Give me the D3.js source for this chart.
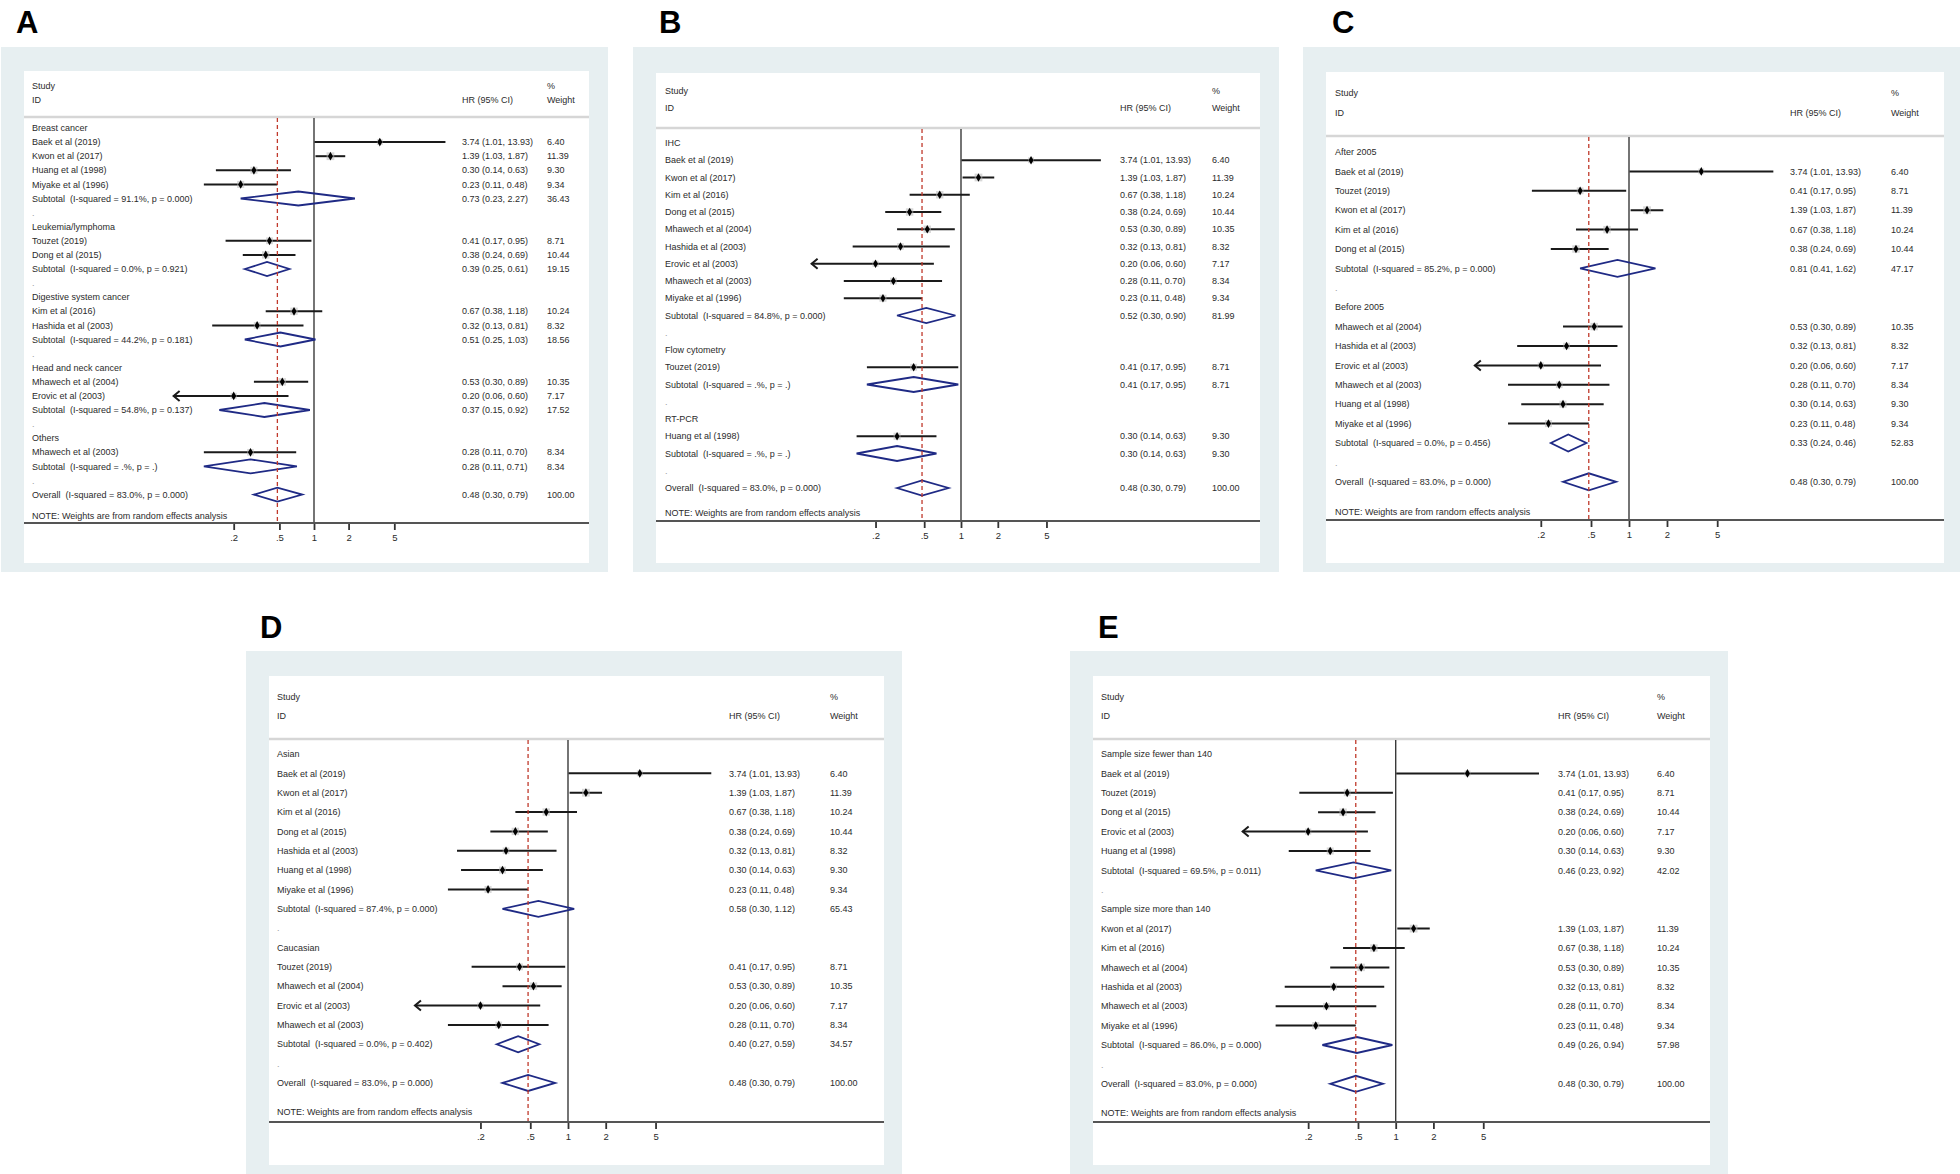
<!DOCTYPE html>
<html>
<head>
<meta charset="utf-8">
<script src="https://cdn.jsdelivr.net/npm/d3@7"></script>
<style>
  html, body { margin: 0; padding: 0; background: #ffffff; }
  svg text { font-family: "Liberation Sans", Arial, sans-serif; white-space: pre; }
</style>
</head>
<body>
<svg id="chart" width="1960" height="1174"></svg>
<script>
// ---------------- DATA ----------------
const studyNames = ["Baek et al (2019)", "Kwon et al (2017)", "Kim et al (2016)", "Dong et al (2015)", "Touzet (2019)",
  "Mhawech et al (2004)", "Hashida et al (2003)", "Erovic et al (2003)", "Mhawech et al (2003)", "Huang et al (1998)", "Miyake et al (1996)"];
const studyHR = [3.74, 1.39, 0.67, 0.38, 0.41, 0.53, 0.32, 0.20, 0.28, 0.30, 0.23];
const studyLo = [1.01, 1.03, 0.38, 0.24, 0.17, 0.30, 0.13, 0.06, 0.11, 0.14, 0.11];
const studyHi = [13.93, 1.87, 1.18, 0.69, 0.95, 0.89, 0.81, 0.60, 0.70, 0.63, 0.48];
const studyWeight = [6.40, 11.39, 10.24, 10.44, 8.71, 10.35, 8.32, 7.17, 8.34, 9.30, 9.34];

const overallHR = 0.48, overallLo = 0.30, overallHi = 0.79, overallWeight = 100.00;
const overallHet = "83.0%, p = 0.000";

const tickValues = [0.2, 0.5, 1, 2, 5];
const tickLabels = [".2", ".5", "1", "2", "5"];

// Panel A: cancer type
const groupsA = ["Breast cancer", "Leukemia/lymphoma", "Digestive system cancer", "Head and neck cancer", "Others"];
const membersA = [["Baek et al (2019)", "Kwon et al (2017)", "Huang et al (1998)", "Miyake et al (1996)"],
  ["Touzet (2019)", "Dong et al (2015)"], ["Kim et al (2016)", "Hashida et al (2003)"],
  ["Mhawech et al (2004)", "Erovic et al (2003)"], ["Mhawech et al (2003)"]];
const subHR_A = [0.73, 0.39, 0.51, 0.37, 0.28];
const subLo_A = [0.23, 0.25, 0.25, 0.15, 0.11];
const subHi_A = [2.27, 0.61, 1.03, 0.92, 0.71];
const subWt_A = [36.43, 19.15, 18.56, 17.52, 8.34];
const subHet_A = ["91.1%, p = 0.000", "0.0%, p = 0.921", "44.2%, p = 0.181", "54.8%, p = 0.137", ".%, p = ."];

// Panel B: detection method
const groupsB = ["IHC", "Flow cytometry", "RT-PCR"];
const membersB = [["Baek et al (2019)", "Kwon et al (2017)", "Kim et al (2016)", "Dong et al (2015)", "Mhawech et al (2004)",
  "Hashida et al (2003)", "Erovic et al (2003)", "Mhawech et al (2003)", "Miyake et al (1996)"],
  ["Touzet (2019)"], ["Huang et al (1998)"]];
const subHR_B = [0.52, 0.41, 0.30];
const subLo_B = [0.30, 0.17, 0.14];
const subHi_B = [0.90, 0.95, 0.63];
const subWt_B = [81.99, 8.71, 9.30];
const subHet_B = ["84.8%, p = 0.000", ".%, p = .", ".%, p = ."];

// Panel C: publication year
const groupsC = ["After 2005", "Before 2005"];
const membersC = [["Baek et al (2019)", "Touzet (2019)", "Kwon et al (2017)", "Kim et al (2016)", "Dong et al (2015)"],
  ["Mhawech et al (2004)", "Hashida et al (2003)", "Erovic et al (2003)", "Mhawech et al (2003)", "Huang et al (1998)", "Miyake et al (1996)"]];
const subHR_C = [0.81, 0.33];
const subLo_C = [0.41, 0.24];
const subHi_C = [1.62, 0.46];
const subWt_C = [47.17, 52.83];
const subHet_C = ["85.2%, p = 0.000", "0.0%, p = 0.456"];

// Panel D: ethnicity
const groupsD = ["Asian", "Caucasian"];
const membersD = [["Baek et al (2019)", "Kwon et al (2017)", "Kim et al (2016)", "Dong et al (2015)", "Hashida et al (2003)",
  "Huang et al (1998)", "Miyake et al (1996)"],
  ["Touzet (2019)", "Mhawech et al (2004)", "Erovic et al (2003)", "Mhawech et al (2003)"]];
const subHR_D = [0.58, 0.40];
const subLo_D = [0.30, 0.27];
const subHi_D = [1.12, 0.59];
const subWt_D = [65.43, 34.57];
const subHet_D = ["87.4%, p = 0.000", "0.0%, p = 0.402"];

// Panel E: sample size
const groupsE = ["Sample size fewer than 140", "Sample size more than 140"];
const membersE = [["Baek et al (2019)", "Touzet (2019)", "Dong et al (2015)", "Erovic et al (2003)", "Huang et al (1998)"],
  ["Kwon et al (2017)", "Kim et al (2016)", "Mhawech et al (2004)", "Hashida et al (2003)", "Mhawech et al (2003)", "Miyake et al (1996)"]];
const subHR_E = [0.46, 0.49];
const subLo_E = [0.23, 0.26];
const subHi_E = [0.92, 0.94];
const subWt_E = [42.02, 57.98];
const subHet_E = ["69.5%, p = 0.011", "86.0%, p = 0.000"];

// ---------------- LAYOUT ----------------
const layouts = {
  A: {letter: "A", lx: 16, ly: 33, outer: [1, 47, 608, 572], inner: [24, 71, 589, 563], studyY: 86, idY: 100, headLine: 117,
      firstRow: 128, step: 14.1, noteY: 516, axisY: 523, textX: 32, hrX: 462, wtX: 547, x1: 314, perLn: 49.9, dh: 7},
  B: {letter: "B", lx: 659, ly: 33, outer: [633, 47, 1279, 572], inner: [656, 73, 1260, 563], studyY: 91, idY: 108, headLine: 128,
      firstRow: 143, step: 17.25, noteY: 513, axisY: 521, textX: 665, hrX: 1120, wtX: 1212, x1: 961, perLn: 53.1, dh: 7.5},
  C: {letter: "C", lx: 1332, ly: 33, outer: [1303, 47, 1960, 572], inner: [1326, 72, 1944, 563], studyY: 93, idY: 113, headLine: 136,
      firstRow: 152, step: 19.4, noteY: 512, axisY: 520, textX: 1335, hrX: 1790, wtX: 1891, x1: 1629, perLn: 54.8, dh: 8.5},
  D: {letter: "D", lx: 260, ly: 638, outer: [246, 651, 902, 1174], inner: [269, 676, 884, 1165], studyY: 697, idY: 716, headLine: 739,
      firstRow: 754, step: 19.35, noteY: 1112, axisY: 1122, textX: 277, hrX: 729, wtX: 830, x1: 568, perLn: 54.4, dh: 8},
  E: {letter: "E", lx: 1098, ly: 638, outer: [1070, 651, 1728, 1174], inner: [1093, 676, 1710, 1165], studyY: 697, idY: 716, headLine: 739,
      firstRow: 754, step: 19.4, noteY: 1113, axisY: 1122, textX: 1101, hrX: 1558, wtX: 1657, x1: 1395.7, perLn: 54.4, dh: 8}
};

const svg = d3.select("#chart");
const f2 = d3.format(".2f");
const TXT = "#2b2b2b";
const FS = 9;

function drawPanel(cfg, groups, members, subHR, subLo, subHi, subWt, subHet) {
  const g = svg.append("g");
  // backgrounds
  g.append("rect").attr("x", cfg.outer[0]).attr("y", cfg.outer[1])
    .attr("width", cfg.outer[2] - cfg.outer[0]).attr("height", cfg.outer[3] - cfg.outer[1]).attr("fill", "#e7eff1");
  g.append("rect").attr("x", cfg.inner[0]).attr("y", cfg.inner[1])
    .attr("width", cfg.inner[2] - cfg.inner[0]).attr("height", cfg.inner[3] - cfg.inner[1]).attr("fill", "#ffffff");
  // panel letter
  g.append("text").attr("x", cfg.lx).attr("y", cfg.ly).text(cfg.letter)
    .attr("font-size", 31).attr("font-weight", "bold").attr("fill", "#000");

  // header
  const txt = (x, y, s, anchor) => g.append("text").attr("x", x).attr("y", y).attr("dy", "0.35em")
    .attr("font-size", FS).attr("fill", TXT).attr("text-anchor", anchor || "start").text(s);
  txt(cfg.textX, cfg.studyY, "Study");
  txt(cfg.textX, cfg.idY, "ID");
  txt(cfg.hrX, cfg.idY, "HR (95% CI)");
  txt(cfg.wtX, cfg.studyY, "%");
  txt(cfg.wtX, cfg.idY, "Weight");
  g.append("line").attr("x1", cfg.inner[0]).attr("x2", cfg.inner[2]).attr("y1", cfg.headLine).attr("y2", cfg.headLine)
    .attr("stroke", "#d6d6d6").attr("stroke-width", 2.5);

  // build rows
  const rows = [];
  groups.forEach((name, i) => {
    rows.push({type: "group", label: name});
    members[i].forEach(s => {
      const k = studyNames.indexOf(s);
      rows.push({type: "study", label: s, hr: studyHR[k], lo: studyLo[k], hi: studyHi[k], w: studyWeight[k]});
    });
    rows.push({type: "sub", label: "Subtotal  (I-squared = " + subHet[i] + ")", hr: subHR[i], lo: subLo[i], hi: subHi[i], w: subWt[i]});
    rows.push({type: "dot", label: "."});
  });
  rows.push({type: "sub", label: "Overall  (I-squared = " + overallHet + ")", hr: overallHR, lo: overallLo, hi: overallHi, w: overallWeight});

  const y = d3.scaleLinear().domain([0, rows.length - 1])
    .range([cfg.firstRow, cfg.firstRow + cfg.step * (rows.length - 1)]);
  const x = d3.scaleLog().domain([0.2, 5])
    .range([cfg.x1 - cfg.perLn * Math.log(5), cfg.x1 + cfg.perLn * Math.log(5)]);

  // reference lines
  g.append("line").attr("x1", x(1)).attr("x2", x(1)).attr("y1", cfg.headLine + 1).attr("y2", cfg.axisY)
    .attr("stroke", "#3a3a3a").attr("stroke-width", 1.4);

  // row labels and numbers
  rows.forEach((r, i) => {
    const yy = y(i);
    const t = txt(cfg.textX, yy, r.label);
    if (r.type === "dot") t.attr("fill", "#999");
    if (r.type === "study" || r.type === "sub") {
      txt(cfg.hrX, yy, f2(r.hr) + " (" + f2(r.lo) + ", " + f2(r.hi) + ")");
      txt(cfg.wtX, yy, f2(r.w));
    }
  });

  // study CIs and markers
  const studies = rows.map((r, i) => ({...r, i})).filter(r => r.type === "study");
  studies.forEach(r => {
    const yy = y(r.i);
    const clip = r.lo < 0.07;
    g.append("line").attr("x1", x(r.lo)).attr("x2", x(r.hi)).attr("y1", yy).attr("y2", yy)
      .attr("stroke", "#1a1a1a").attr("stroke-width", 2);
    if (clip) {
      g.append("path")
        .attr("d", d3.line()([[x(r.lo) + 6, yy - 5], [x(r.lo), yy], [x(r.lo) + 6, yy + 5]]))
        .attr("fill", "none").attr("stroke", "#1a1a1a").attr("stroke-width", 2);
    }
    const s = Math.sqrt(r.w) * 2.3;
    g.append("rect").attr("x", x(r.hr) - s / 2).attr("y", yy - s / 2).attr("width", s).attr("height", s)
      .attr("fill", "#b8b8b8").attr("opacity", 0.55);
    g.append("path").attr("d", d3.symbol(d3.symbolDiamond, 22)())
      .attr("transform", "translate(" + x(r.hr) + "," + yy + ")").attr("fill", "#000");
  });

  // diamonds for subtotals / overall
  rows.forEach((r, i) => {
    if (r.type !== "sub") return;
    const yy = y(i);
    g.append("path")
      .attr("d", d3.line()([[x(r.lo), yy], [x(r.hr), yy - cfg.dh], [x(r.hi), yy], [x(r.hr), yy + cfg.dh]]) + "Z")
      .attr("fill", "none").attr("stroke", "#1f2a85").attr("stroke-width", 1.8);
  });

  // overall dashed line
  g.append("line").attr("x1", x(overallHR)).attr("x2", x(overallHR)).attr("y1", cfg.headLine + 1).attr("y2", cfg.axisY)
    .attr("stroke", "#c0392b").attr("stroke-width", 1.3).attr("stroke-dasharray", "4,3");

  // note
  txt(cfg.textX, cfg.noteY, "NOTE: Weights are from random effects analysis");

  // axis
  const axis = d3.axisBottom(x).tickValues(tickValues)
    .tickFormat((d, i) => tickLabels[i]).tickSize(7).tickPadding(4);
  const ag = g.append("g").attr("transform", "translate(0," + cfg.axisY + ")").call(axis);
  ag.select(".domain").remove();
  ag.selectAll(".tick line").attr("stroke", "#333").attr("stroke-width", 1.8);
  ag.selectAll(".tick text").attr("font-size", 9.5).attr("fill", TXT)
    .attr("font-family", "Liberation Sans, Arial, sans-serif");
  g.append("line").attr("x1", cfg.inner[0]).attr("x2", cfg.inner[2]).attr("y1", cfg.axisY).attr("y2", cfg.axisY)
    .attr("stroke", "#555").attr("stroke-width", 2.2);
}

drawPanel(layouts.A, groupsA, membersA, subHR_A, subLo_A, subHi_A, subWt_A, subHet_A);
drawPanel(layouts.B, groupsB, membersB, subHR_B, subLo_B, subHi_B, subWt_B, subHet_B);
drawPanel(layouts.C, groupsC, membersC, subHR_C, subLo_C, subHi_C, subWt_C, subHet_C);
drawPanel(layouts.D, groupsD, membersD, subHR_D, subLo_D, subHi_D, subWt_D, subHet_D);
drawPanel(layouts.E, groupsE, membersE, subHR_E, subLo_E, subHi_E, subWt_E, subHet_E);
</script>
</body>
</html>
